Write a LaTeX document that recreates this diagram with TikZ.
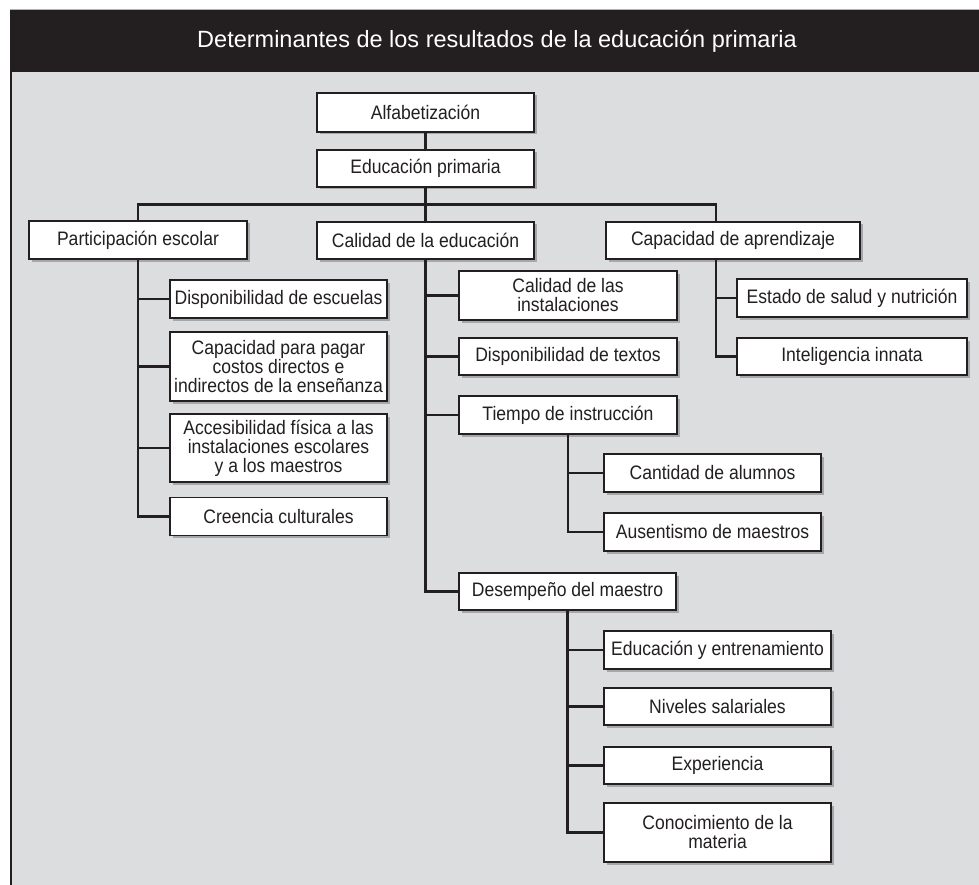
\documentclass[tikz,border=0pt]{standalone}
\usepackage{fontspec}
\setmainfont{Liberation Sans}[FakeStretch=0.9]
\newfontfamily\headfont{Liberation Sans}
\usetikzlibrary{shadows}
\definecolor{ink}{HTML}{231F20}
\definecolor{panel}{HTML}{DCDDDE}
\definecolor{shade}{HTML}{A5A7AA}
\newcommand\boxfont{\fontsize{19.5}{19}\selectfont}
\newcommand\titlefont{\headfont\fontsize{23.5}{26}\selectfont}

\begin{document}
\begin{tikzpicture}[x=1pt, y=-1pt,
    box/.style = {draw=ink, line width=1.5pt, fill=white, text=ink, inner sep=0pt, align=center, font=\boxfont, minimum height=38pt, drop shadow={shadow xshift=2.5pt, shadow yshift=-2.5pt, fill=shade, opacity=1}},
    conn/.style = {draw=ink, line width=2.8pt}]
    \useasboundingbox (0,0) rectangle (979,885);

    %Frame
    \fill[white] (0,0) rectangle (979,885);
    \fill[panel] (10,72) rectangle (979,885);
    \fill[ink] (10,9.5) rectangle (979,72);
    \draw[black!30, line width=0.8pt] (10,9.5) -- (979,9.5);
    \draw[ink, line width=1.6pt] (10.8,72) -- (10.8,885);
    \node at (497,41) [text=white, font=\titlefont] (title) {Determinantes de los resultados de la educación primaria};

    %Top
    \node at (425.5,112.5) [box, minimum width=217pt, minimum height=39pt] (alfa) {Alfabetización};
    \node at (425.5,168.5) [box, minimum width=217pt, minimum height=37pt] (edu) {Educación primaria};

    \node at (138,240) [box, minimum width=218pt] (part) {Participación escolar};
    \node at (425.5,240.5) [box, minimum width=217pt, minimum height=37pt] (cal) {Calidad de la educación};
    \node at (733,240.5) [box, minimum width=254pt, minimum height=37pt] (cap) {Capacidad de aprendizaje};

    %Participacion
    \node at (278.5,299) [box, minimum width=217pt] (disp) {Disponibilidad de escuelas};
    \node at (278.5,366.5) [box, minimum width=217pt, minimum height=69pt] (pagar) {Capacidad para pagar\\costos directos e\\indirectos de la enseñanza};
    \node at (278.5,448) [box, minimum width=217pt, minimum height=68pt] (acces) {Accesibilidad física a las\\instalaciones escolares\\y a los maestros};
    \node at (278.5,516.5) [box, minimum width=217pt] (creen) {Creencia culturales};

    %Calidad
    \node at (568,295.5) [box, minimum width=218pt, minimum height=49pt] (inst) {Calidad de las\\instalaciones};
    \node at (568,356.5) [box, minimum width=218pt, minimum height=37pt] (textos) {Disponibilidad de textos};
    \node at (568,415) [box, minimum width=218pt] (tiempo) {Tiempo de instrucción};
    \node at (567.5,591.5) [box, minimum width=217pt, minimum height=37pt] (desemp) {Desempeño del maestro};

    \node at (712.5,473) [box, minimum width=217pt] (alumnos) {Cantidad de alumnos};
    \node at (712.5,532) [box, minimum width=217pt] (ausent) {Ausentismo de maestros};

    \node at (717.5,650) [box, minimum width=227pt] (entren) {Educación y entrenamiento};
    \node at (717.5,706.5) [box, minimum width=227pt, minimum height=37pt] (salar) {Niveles salariales};
    \node at (717.5,765.5) [box, minimum width=227pt, minimum height=37pt] (exper) {Experiencia};
    \node at (717.5,832.5) [box, minimum width=227pt, minimum height=59pt] (conoc) {Conocimiento de la\\materia};

    %Capacidad
    \node at (852,298) [box, minimum width=230pt] (salud) {Estado de salud y nutrición};
    \node at (852,356.5) [box, minimum width=230pt, minimum height=37pt] (intel) {Inteligencia innata};

    \coordinate (capTop) at ([xshift=-17pt]cap.north);
    \coordinate (capBot) at ([xshift=-17pt]cap.south);

    %Connectors
    \draw[conn] (alfa) -- (edu);
    \draw[conn] (edu) -- (cal);
    \draw[conn] (part.north) -- ++(0,-16) -| (capTop);
    \foreach \kid in {disp, pagar, acces, creen}
        \draw[conn] (part.south) |- (\kid.west);
    \foreach \kid in {inst, textos, tiempo, desemp}
        \draw[conn] (cal.south) |- (\kid.west);
    \foreach \kid in {alumnos, ausent}
        \draw[conn] (tiempo.south) |- (\kid.west);
    \foreach \kid in {entren, salar, exper, conoc}
        \draw[conn] (desemp.south) |- (\kid.west);
    \foreach \kid in {salud, intel}
        \draw[conn] (capBot) |- (\kid.west);

\end{tikzpicture}
\end{document}
